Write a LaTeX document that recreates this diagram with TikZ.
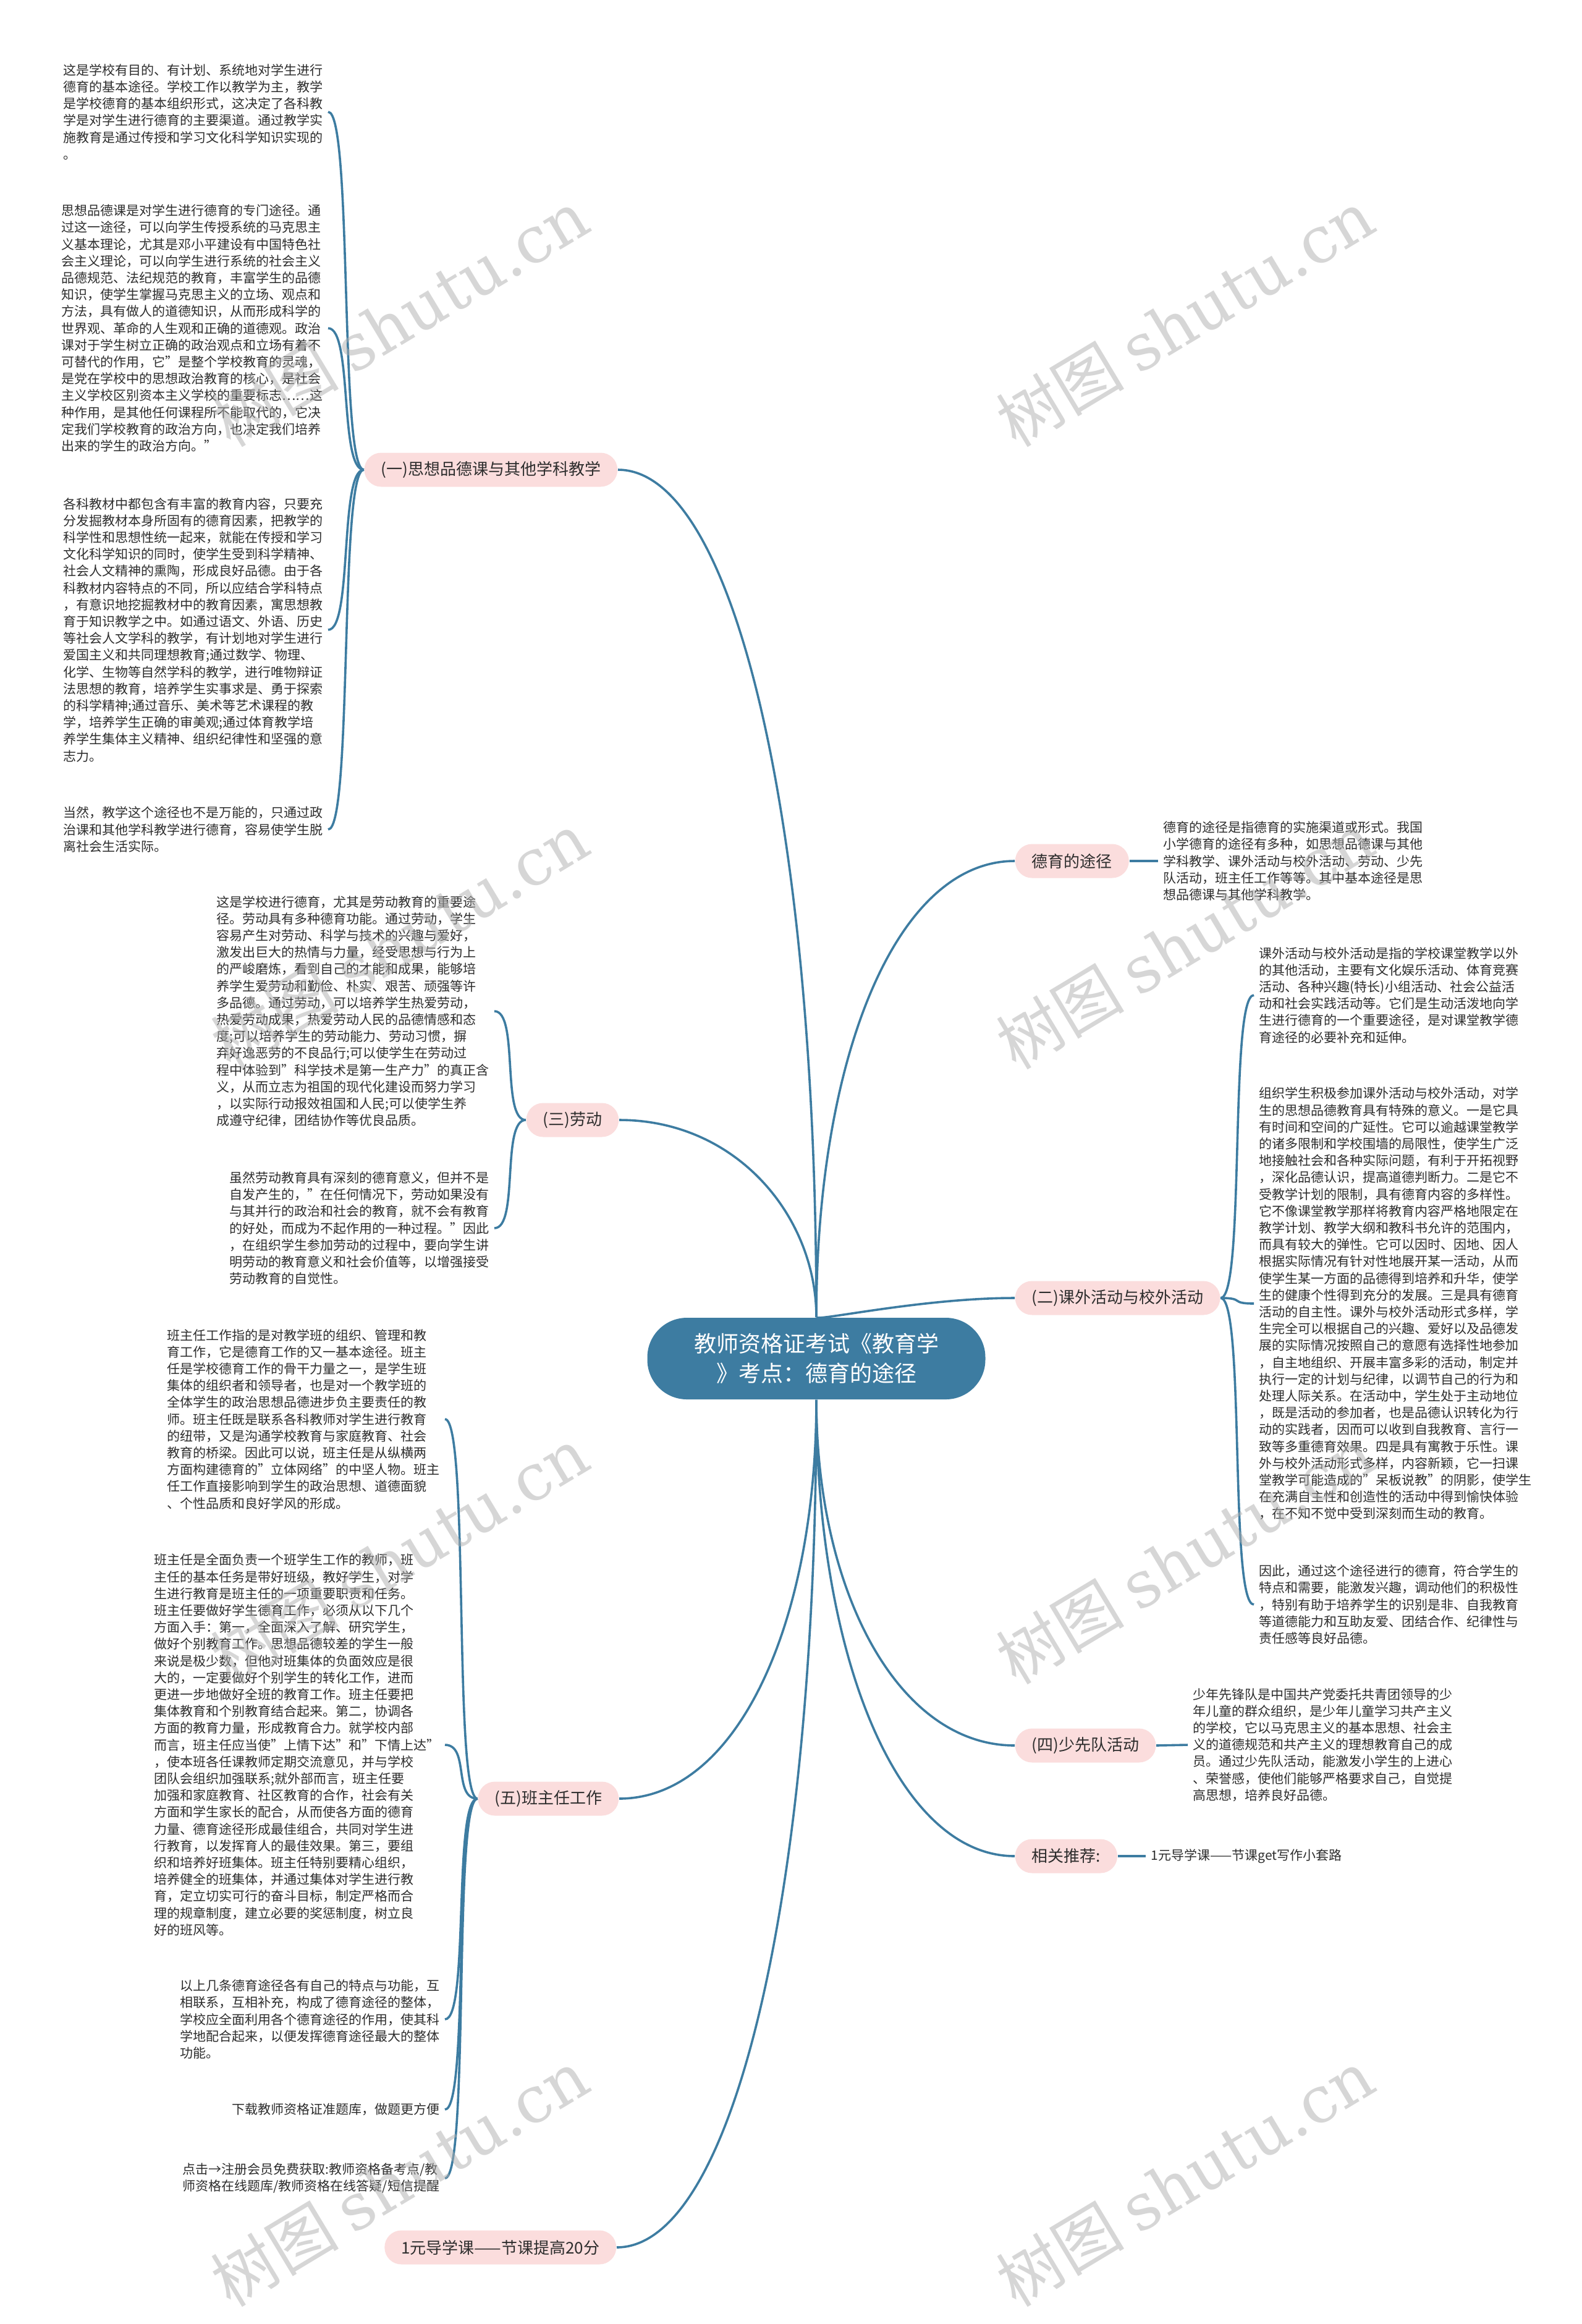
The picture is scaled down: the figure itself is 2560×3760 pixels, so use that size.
\documentclass[tikz,border=0pt]{standalone}
\usepackage{fontspec}
\setmainfont{Noto Sans CJK SC}
\newfontfamily\marklatin{DejaVu Serif}
\usepackage{tikz}
\usetikzlibrary{backgrounds}
\usepackage{xcolor}
\definecolor{mapblue}{RGB}{61,124,161}
\definecolor{softpink}{RGB}{251,221,221}
\definecolor{inkgray}{RGB}{45,45,45}
\definecolor{markgray}{RGB}{175,175,175}

\begin{document}
\begin{tikzpicture}[
    x=0.25pt, y=-0.25pt,
    hub/.style={rectangle, rounded corners=16pt, fill=mapblue, text=white, minimum width=136.75pt, minimum height=33pt, align=center, font=\fontsize{9}{12}\selectfont},
    topic/.style={rectangle, rounded corners=6.8pt, fill=softpink, text=inkgray, minimum height=13.75pt, inner xsep=6.75pt, font=\fontsize{6.5}{8}\selectfont},
    detail/.style={align=left, inner xsep=2pt, inner ysep=1pt, text=inkgray, font=\fontsize{5.25}{6.8}\selectfont},
    joint/.style={draw=mapblue, line width=0.9pt},
    stamp/.style={rotate=31, text=markgray, text opacity=0.5, font=\fontsize{26}{26}\selectfont}
]
\useasboundingbox (0,0) rectangle (2560,3760);

% Centre
\node[hub] (hub) at (1321,2198) {教师资格证考试《教育学\\》考点：德育的途径};

% Topics on the left
\node[topic, anchor=east] (moral) at (1000,760) {(一)思想品德课与其他学科教学};
\node[topic, anchor=east] (labour) at (1002,1812) {(三)劳动};
\node[topic, anchor=east] (tutor) at (1002,2910) {(五)班主任工作};
\node[topic, anchor=east] (course) at (998,3636) {1元导学课——节课提高20分};

% Topics on the right
\node[topic, anchor=west] (path) at (1642,1393) {德育的途径};
\node[topic, anchor=west] (extra) at (1642,2100) {(二)课外活动与校外活动};
\node[topic, anchor=west] (pioneer) at (1642,2824) {(四)少先队活动};
\node[topic, anchor=west] (related) at (1642,3003) {相关推荐:};

% Details of (一)
\node[detail, anchor=east] (m1) at (531,181) {这是学校有目的、有计划、系统地对学生进行\\德育的基本途径。学校工作以教学为主，教学\\是学校德育的基本组织形式，这决定了各科教\\学是对学生进行德育的主要渠道。通过教学实\\施教育是通过传授和学习文化科学知识实现的\\。};
\node[detail, anchor=east] (m2) at (531,531) {思想品德课是对学生进行德育的专门途径。通\\过这一途径，可以向学生传授系统的马克思主\\义基本理论，尤其是邓小平建设有中国特色社\\会主义理论，可以向学生进行系统的社会主义\\品德规范、法纪规范的教育，丰富学生的品德\\知识，使学生掌握马克思主义的立场、观点和\\方法，具有做人的道德知识，从而形成科学的\\世界观、革命的人生观和正确的道德观。政治\\课对于学生树立正确的政治观点和立场有着不\\可替代的作用，它"是整个学校教育的灵魂，\\是党在学校中的思想政治教育的核心，是社会\\主义学校区别资本主义学校的重要标志……这\\种作用，是其他任何课程所不能取代的，它决\\定我们学校教育的政治方向，也决定我们培养\\出来的学生的政治方向。"};
\node[detail, anchor=east] (m3) at (531,1019) {各科教材中都包含有丰富的教育内容，只要充\\分发掘教材本身所固有的德育因素，把教学的\\科学性和思想性统一起来，就能在传授和学习\\文化科学知识的同时，使学生受到科学精神、\\社会人文精神的熏陶，形成良好品德。由于各\\科教材内容特点的不同，所以应结合学科特点\\，有意识地挖掘教材中的教育因素，寓思想教\\育于知识教学之中。如通过语文、外语、历史\\等社会人文学科的教学，有计划地对学生进行\\爱国主义和共同理想教育;通过数学、物理、\\化学、生物等自然学科的教学，进行唯物辩证\\法思想的教育，培养学生实事求是、勇于探索\\的科学精神;通过音乐、美术等艺术课程的教\\学，培养学生正确的审美观;通过体育教学培\\养学生集体主义精神、组织纪律性和坚强的意\\志力。};
\node[detail, anchor=east] (m4) at (531,1342) {当然，教学这个途径也不是万能的，只通过政\\治课和其他学科教学进行德育，容易使学生脱\\离社会生活实际。};

% Details of (三)
\node[detail, anchor=east] (w1) at (800,1636) {这是学校进行德育，尤其是劳动教育的重要途\\径。劳动具有多种德育功能。通过劳动，学生\\容易产生对劳动、科学与技术的兴趣与爱好，\\激发出巨大的热情与力量，经受思想与行为上\\的严峻磨炼，看到自己的才能和成果，能够培\\养学生爱劳动和勤俭、朴实、艰苦、顽强等许\\多品德。通过劳动，可以培养学生热爱劳动，\\热爱劳动成果，热爱劳动人民的品德情感和态\\度;可以培养学生的劳动能力、劳动习惯，摒\\弃好逸恶劳的不良品行;可以使学生在劳动过\\程中体验到"科学技术是第一生产力"的真正含\\义，从而立志为祖国的现代化建设而努力学习\\，以实际行动报效祖国和人民;可以使学生养\\成遵守纪律，团结协作等优良品质。};
\node[detail, anchor=east] (w2) at (800,1987) {虽然劳动教育具有深刻的德育意义，但并不是\\自发产生的，"在任何情况下，劳动如果没有\\与其并行的政治和社会的教育，就不会有教育\\的好处，而成为不起作用的一种过程。"因此\\，在组织学生参加劳动的过程中，要向学生讲\\明劳动的教育意义和社会价值等，以增强接受\\劳动教育的自觉性。};

% Details of (五)
\node[detail, anchor=east] (t1) at (720,2296) {班主任工作指的是对教学班的组织、管理和教\\育工作，它是德育工作的又一基本途径。班主\\任是学校德育工作的骨干力量之一，是学生班\\集体的组织者和领导者，也是对一个教学班的\\全体学生的政治思想品德进步负主要责任的教\\师。班主任既是联系各科教师对学生进行教育\\的纽带，又是沟通学校教育与家庭教育、社会\\教育的桥梁。因此可以说，班主任是从纵横两\\方面构建德育的"立体网络"的中坚人物。班主\\任工作直接影响到学生的政治思想、道德面貌\\、个性品质和良好学风的形成。};
\node[detail, anchor=east] (t2) at (720,2823) {班主任是全面负责一个班学生工作的教师，班\\主任的基本任务是带好班级，教好学生，对学\\生进行教育是班主任的一项重要职责和任务。\\班主任要做好学生德育工作，必须从以下几个\\方面入手：第一，全面深入了解、研究学生，\\做好个别教育工作。思想品德较差的学生一般\\来说是极少数，但他对班集体的负面效应是很\\大的，一定要做好个别学生的转化工作，进而\\更进一步地做好全班的教育工作。班主任要把\\集体教育和个别教育结合起来。第二，协调各\\方面的教育力量，形成教育合力。就学校内部\\而言，班主任应当使"上情下达"和"下情上达"\\，使本班各任课教师定期交流意见，并与学校\\团队会组织加强联系;就外部而言，班主任要\\加强和家庭教育、社区教育的合作，社会有关\\方面和学生家长的配合，从而使各方面的德育\\力量、德育途径形成最佳组合，共同对学生进\\行教育，以发挥育人的最佳效果。第三，要组\\织和培养好班集体。班主任特别要精心组织，\\培养健全的班集体，并通过集体对学生进行教\\育，定立切实可行的奋斗目标，制定严格而合\\理的规章制度，建立必要的奖惩制度，树立良\\好的班风等。};
\node[detail, anchor=east] (t3) at (720,3267) {以上几条德育途径各有自己的特点与功能，互\\相联系，互相补充，构成了德育途径的整体，\\学校应全面利用各个德育途径的作用，使其科\\学地配合起来，以便发挥德育途径最大的整体\\功能。};
\node[detail, anchor=east] (t4) at (720,3413) {下载教师资格证准题库，做题更方便};
\node[detail, anchor=east] (t5) at (720,3524) {点击→注册会员免费获取:教师资格备考点/教\\师资格在线题库/教师资格在线答疑/短信提醒};

% Details on the right
\node[detail, anchor=west] (p1) at (1874,1393) {德育的途径是指德育的实施渠道或形式。我国\\小学德育的途径有多种，如思想品德课与其他\\学科教学、课外活动与校外活动、劳动、少先\\队活动，班主任工作等等。其中基本途径是思\\想品德课与其他学科教学。};
\node[detail, anchor=west] (e1) at (2029,1610) {课外活动与校外活动是指的学校课堂教学以外\\的其他活动，主要有文化娱乐活动、体育竞赛\\活动、各种兴趣(特长)小组活动、社会公益活\\动和社会实践活动等。它们是生动活泼地向学\\生进行德育的一个重要途径，是对课堂教学德\\育途径的必要补充和延伸。};
\node[detail, anchor=west] (e2) at (2029,2109) {组织学生积极参加课外活动与校外活动，对学\\生的思想品德教育具有特殊的意义。一是它具\\有时间和空间的广延性。它可以逾越课堂教学\\的诸多限制和学校围墙的局限性，使学生广泛\\地接触社会和各种实际问题，有利于开拓视野\\，深化品德认识，提高道德判断力。二是它不\\受教学计划的限制，具有德育内容的多样性。\\它不像课堂教学那样将教育内容严格地限定在\\教学计划、教学大纲和教科书允许的范围内，\\而具有较大的弹性。它可以因时、因地、因人\\根据实际情况有针对性地展开某一活动，从而\\使学生某一方面的品德得到培养和升华，使学\\生的健康个性得到充分的发展。三是具有德育\\活动的自主性。课外与校外活动形式多样，学\\生完全可以根据自己的兴趣、爱好以及品德发\\展的实际情况按照自己的意愿有选择性地参加\\，自主地组织、开展丰富多彩的活动，制定并\\执行一定的计划与纪律，以调节自己的行为和\\处理人际关系。在活动中，学生处于主动地位\\，既是活动的参加者，也是品德认识转化为行\\动的实践者，因而可以收到自我教育、言行一\\致等多重德育效果。四是具有寓教于乐性。课\\外与校外活动形式多样，内容新颖，它一扫课\\堂教学可能造成的"呆板说教"的阴影，使学生\\在充满自主性和创造性的活动中得到愉快体验\\，在不知不觉中受到深刻而生动的教育。};
\node[detail, anchor=west] (e3) at (2029,2596) {因此，通过这个途径进行的德育，符合学生的\\特点和需要，能激发兴趣，调动他们的积极性\\，特别有助于培养学生的识别是非、自我教育\\等道德能力和互助友爱、团结合作、纪律性与\\责任感等良好品德。};
\node[detail, anchor=west] (q1) at (1922,2823) {少年先锋队是中国共产党委托共青团领导的少\\年儿童的群众组织，是少年儿童学习共产主义\\的学校，它以马克思主义的基本思想、社会主\\义的道德规范和共产主义的理想教育自己的成\\员。通过少先队活动，能激发小学生的上进心\\、荣誉感，使他们能够严格要求自己，自觉提\\高思想，培养良好品德。};
\node[detail, anchor=west] (r1) at (1854,3003) {1元导学课——节课get写作小套路};

% Connectors
\begin{scope}[on background layer]
\fill[white] (0,0) rectangle (2560,3760);
\draw[joint] (hub) .. controls +(0,-860) and +(190,0) .. (moral.east);
\draw[joint] (hub) .. controls +(0,-230) and +(190,0) .. (labour.east);
\draw[joint] (hub) .. controls +(0,430) and +(190,0) .. (tutor.east);
\draw[joint] (hub) .. controls +(0,860) and +(190,0) .. (course.east);
\draw[joint] (hub) .. controls +(0,-480) and +(-195,0) .. (path.west);
\draw[joint] (hub) .. controls +(0,-60) and +(-150,0) .. (extra.west);
\draw[joint] (hub) .. controls +(0,375) and +(-190,0) .. (pioneer.west);
\draw[joint] (hub) .. controls +(0,480) and +(-190,0) .. (related.west);

\foreach \d in {m1,m2,m3,m4}
  \draw[joint] (moral.west) .. controls +(-40,0) and +(40,0) .. (\d.east);
\foreach \d in {w1,w2}
  \draw[joint] (labour.west) .. controls +(-40,0) and +(40,0) .. (\d.east);
\foreach \d in {t1,t2,t3,t4,t5}
  \draw[joint] (tutor.west) .. controls +(-40,0) and +(40,0) .. (\d.east);
\foreach \d in {e1,e2,e3}
  \draw[joint] (extra.east) .. controls +(40,0) and +(-40,0) .. (\d.west);
\draw[joint] (path.east) -- (p1.west);
\draw[joint] (pioneer.east) -- (q1.west);
\draw[joint] (related.east) -- (r1.west);
\end{scope}

% Watermarks
\foreach \wx/\wy [count=\k] in {647/515, 1918/515, 647/1522, 1918/1522, 647/2517, 1918/2517, 647/3524, 1918/3524}
  \node[stamp] (mark\k) at (\wx,\wy) {树图 {\marklatin shutu.cn}};
\end{tikzpicture}
\end{document}
